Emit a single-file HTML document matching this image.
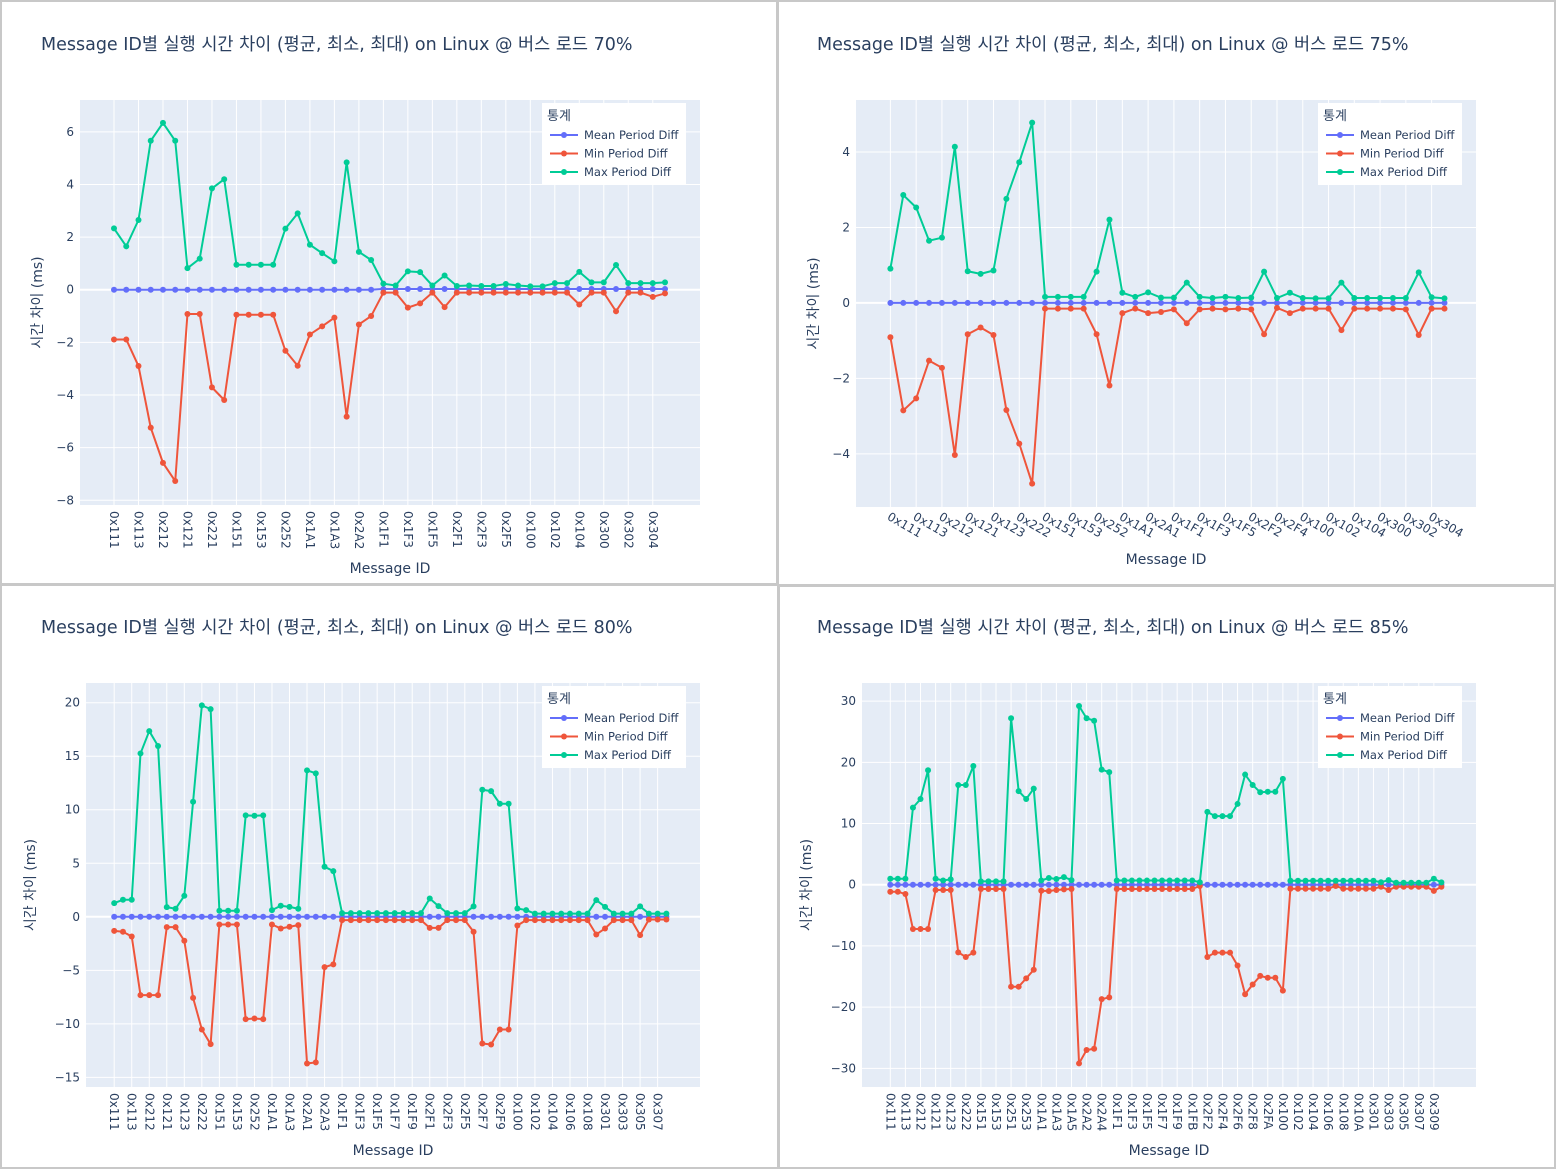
<!DOCTYPE html>
<html><head><meta charset="utf-8">
<style>
html,body{margin:0;padding:0;background:#fff;}
svg{display:block;font-family:"DejaVu Sans","Noto Sans CJK KR",sans-serif;}
</style></head>
<body>
<svg id="root" width="1556" height="1169" viewBox="0 0 1556 1169" xmlns="http://www.w3.org/2000/svg">
<rect x="0" y="0" width="1556" height="1169" fill="#fff"/>
<rect x="1" y="1" width="776" height="583" fill="none" stroke="#c8c8c8" stroke-width="2"/>
<rect x="778" y="1" width="777" height="584" fill="none" stroke="#c8c8c8" stroke-width="2"/>
<rect x="1" y="585" width="777" height="583" fill="none" stroke="#c8c8c8" stroke-width="2"/>
<rect x="779" y="586" width="776" height="582" fill="none" stroke="#c8c8c8" stroke-width="2"/>
</svg>
<script>
// ---------- Panel 1 (70%) ----------
const p1Cats = ["0x111","0x112","0x113","0x211","0x212","0x213","0x121","0x122","0x221","0x222","0x151","0x152","0x153","0x251","0x252","0x253","0x1A1","0x1A2","0x1A3","0x2A1","0x2A2","0x2A3","0x1F1","0x1F2","0x1F3","0x1F4","0x1F5","0x1F6","0x2F1","0x2F2","0x2F3","0x2F4","0x2F5","0x2F6","0x100","0x101","0x102","0x103","0x104","0x105","0x300","0x301","0x302","0x303","0x304","0x305"];
const p1Mean = [0,0,0,0,0,0,0,0,0,0,0,0,0,0,0,0,0,0,0,0,0,0,0.03,0.03,0.03,0.03,0.03,0.03,0.03,0.03,0.03,0.03,0.03,0.03,0.03,0.03,0.03,0.03,0.03,0.03,0.03,0.03,0.03,0.03,0.03,0.03];
const p1Min = [-1.89,-1.89,-2.9,-5.24,-6.58,-7.27,-0.92,-0.92,-3.71,-4.19,-0.95,-0.95,-0.95,-0.95,-2.32,-2.89,-1.7,-1.39,-1.06,-4.82,-1.32,-1.0,-0.11,-0.11,-0.68,-0.52,-0.11,-0.66,-0.11,-0.11,-0.11,-0.11,-0.11,-0.11,-0.11,-0.11,-0.11,-0.11,-0.56,-0.11,-0.11,-0.82,-0.11,-0.11,-0.27,-0.14];
const p1Max = [2.33,1.65,2.65,5.66,6.34,5.66,0.82,1.18,3.85,4.2,0.95,0.95,0.95,0.95,2.32,2.9,1.71,1.39,1.08,4.84,1.44,1.13,0.23,0.16,0.7,0.67,0.16,0.54,0.14,0.16,0.14,0.14,0.22,0.16,0.13,0.13,0.25,0.25,0.68,0.28,0.28,0.94,0.25,0.25,0.25,0.28];
const p1YTicks = [6,4,2,0,-2,-4,-6,-8];

// ---------- Panel 2 (75%) ----------
const p2Cats = ["0x111","0x112","0x113","0x211","0x212","0x213","0x121","0x122","0x123","0x221","0x222","0x223","0x151","0x152","0x153","0x251","0x252","0x253","0x1A1","0x1A2","0x2A1","0x2A2","0x1F1","0x1F2","0x1F3","0x1F4","0x1F5","0x1F6","0x2F2","0x2F3","0x2F4","0x2F5","0x100","0x101","0x102","0x103","0x104","0x105","0x300","0x301","0x302","0x303","0x304","0x305"];
const p2Mean = [0,0,0,0,0,0,0,0,0,0,0,0,0,0,0,0,0,0,0,0,0,0,0,0,0,0,0,0,0,0,0,0,0,0,0,0,0,0,0,0,0,0,0,0];
const p2Min = [-0.91,-2.85,-2.53,-1.53,-1.72,-4.03,-0.83,-0.65,-0.85,-2.84,-3.73,-4.79,-0.15,-0.15,-0.15,-0.15,-0.83,-2.19,-0.27,-0.15,-0.27,-0.24,-0.17,-0.54,-0.17,-0.15,-0.17,-0.15,-0.17,-0.83,-0.13,-0.27,-0.15,-0.15,-0.15,-0.72,-0.15,-0.15,-0.15,-0.15,-0.17,-0.85,-0.15,-0.15];
const p2Max = [0.91,2.86,2.53,1.65,1.73,4.14,0.84,0.77,0.86,2.76,3.73,4.78,0.16,0.16,0.16,0.16,0.83,2.21,0.27,0.16,0.28,0.14,0.14,0.54,0.16,0.13,0.16,0.13,0.14,0.83,0.13,0.27,0.13,0.12,0.12,0.54,0.13,0.13,0.13,0.13,0.13,0.81,0.15,0.12];
const p2YTicks = [4,2,0,-2,-4];

// ---------- Panel 3 (80%) ----------
const p3Cats = ["0x111","0x112","0x113","0x211","0x212","0x213","0x121","0x122","0x123","0x221","0x222","0x223","0x151","0x152","0x153","0x251","0x252","0x253","0x1A1","0x1A2","0x1A3","0x1A4","0x2A1","0x2A2","0x2A3","0x2A4","0x1F1","0x1F2","0x1F3","0x1F4","0x1F5","0x1F6","0x1F7","0x1F8","0x1F9","0x1FA","0x2F1","0x2F2","0x2F3","0x2F4","0x2F5","0x2F6","0x2F7","0x2F8","0x2F9","0x2FA","0x100","0x101","0x102","0x103","0x104","0x105","0x106","0x107","0x108","0x109","0x301","0x302","0x303","0x304","0x305","0x306","0x307","0x308"];
const p3Mean = [0,0,0,0,0,0,0,0,0,0,0,0,0,0,0,0,0,0,0,0,0,0,0,0,0,0,0,0,0,0,0,0,0,0,0,0,0,0,0,0,0,0,0,0,0,0,0,0,0,0,0,0,0,0,0,0,0,0,0,0,0,0,0,0];
const p3Min = [-1.31,-1.4,-1.84,-7.32,-7.32,-7.32,-0.97,-0.97,-2.24,-7.57,-10.53,-11.9,-0.72,-0.72,-0.72,-9.56,-9.5,-9.56,-0.72,-1.09,-0.93,-0.78,-13.7,-13.6,-4.7,-4.45,-0.31,-0.31,-0.31,-0.31,-0.31,-0.31,-0.31,-0.31,-0.31,-0.31,-1.03,-1.03,-0.31,-0.31,-0.31,-1.4,-11.84,-11.93,-10.53,-10.53,-0.81,-0.31,-0.31,-0.31,-0.31,-0.31,-0.31,-0.31,-0.31,-1.65,-1.09,-0.31,-0.31,-0.31,-1.71,-0.25,-0.25,-0.25];
const p3Max = [1.28,1.59,1.59,15.26,17.35,15.95,0.9,0.75,1.96,10.75,19.75,19.4,0.56,0.56,0.56,9.47,9.44,9.47,0.62,1.03,0.93,0.75,13.68,13.4,4.67,4.27,0.34,0.34,0.34,0.34,0.34,0.34,0.34,0.34,0.34,0.34,1.71,1.0,0.34,0.34,0.34,0.97,11.87,11.74,10.56,10.56,0.78,0.62,0.3,0.3,0.3,0.3,0.3,0.3,0.3,1.56,0.93,0.3,0.3,0.3,0.97,0.3,0.3,0.3];
const p3YTicks = [20,15,10,5,0,-5,-10,-15];

// ---------- Panel 4 (85%) ----------
const p4Cats = ["0x111","0x112","0x113","0x211","0x212","0x213","0x121","0x122","0x123","0x221","0x222","0x223","0x151","0x152","0x153","0x154","0x251","0x252","0x253","0x254","0x1A1","0x1A2","0x1A3","0x1A4","0x1A5","0x2A1","0x2A2","0x2A3","0x2A4","0x2A5","0x1F1","0x1F2","0x1F3","0x1F4","0x1F5","0x1F6","0x1F7","0x1F8","0x1F9","0x1FA","0x1FB","0x1FC","0x2F2","0x2F3","0x2F4","0x2F5","0x2F6","0x2F7","0x2F8","0x2F9","0x2FA","0x2FB","0x100","0x101","0x102","0x103","0x104","0x105","0x106","0x107","0x108","0x109","0x10A","0x10B","0x301","0x302","0x303","0x304","0x305","0x306","0x307","0x308","0x309","0x30A"];
const p4Mean = [0,0,0,0,0,0,0,0,0,0,0,0,0,0,0,0,0,0,0,0,0,0,0,0,0,0,0,0,0,0,0,0,0,0,0,0,0,0,0,0,0,0,0,0,0,0,0,0,0,0,0,0,0,0,0,0,0,0,0,0,0,0,0,0,0,0,0,0,0,0,0,0,0,0];
const p4Min = [-1.14,-1.14,-1.52,-7.24,-7.24,-7.24,-0.87,-0.87,-0.87,-11.05,-11.8,-11.1,-0.7,-0.7,-0.7,-0.7,-16.66,-16.66,-15.3,-13.9,-0.98,-1.03,-0.87,-0.76,-0.7,-29.2,-27.0,-26.8,-18.7,-18.4,-0.7,-0.7,-0.7,-0.7,-0.7,-0.7,-0.7,-0.7,-0.7,-0.7,-0.7,-0.2,-11.8,-11.1,-11.1,-11.1,-13.2,-17.9,-16.3,-14.9,-15.2,-15.2,-17.3,-0.65,-0.65,-0.65,-0.65,-0.65,-0.65,-0.2,-0.65,-0.65,-0.65,-0.65,-0.65,-0.33,-0.87,-0.33,-0.33,-0.33,-0.33,-0.33,-1.0,-0.33];
const p4Max = [0.98,0.98,0.98,12.6,14.0,18.7,0.98,0.7,0.87,16.3,16.3,19.4,0.54,0.54,0.54,0.54,27.2,15.3,14.0,15.7,0.7,1.1,0.93,1.25,0.76,29.2,27.2,26.8,18.8,18.4,0.7,0.7,0.7,0.7,0.7,0.7,0.7,0.7,0.7,0.7,0.7,0.4,11.9,11.2,11.2,11.2,13.2,18.0,16.3,15.1,15.2,15.2,17.3,0.65,0.65,0.65,0.65,0.65,0.65,0.65,0.65,0.65,0.65,0.65,0.65,0.4,0.76,0.33,0.33,0.33,0.33,0.33,0.98,0.38];
const p4YTicks = [30,20,10,0,-10,-20,-30];

const COLORS = {mean:"#636efa", min:"#ef553b", max:"#00cc96"};
const NS = "http://www.w3.org/2000/svg";
const root = document.getElementById('root');

function mk(tag, attrs, parent){
  const e = document.createElementNS(NS, tag);
  for (const k in attrs) e.setAttribute(k, attrs[k]);
  parent.appendChild(e);
  return e;
}
function fmt(v){ return v < 0 ? "\u2212" + Math.abs(v) : String(v); }

function drawChart(cfg){
  const g = mk('g', {}, root);
  
  
  const P = cfg.plot;
  const n = cfg.cats.length;
  const step = (cfg.xLast - cfg.xFirst) / (n - 1);
  const xS = i => cfg.xFirst + i * step;
  const yS = v => P.t + (cfg.yMax - v) / (cfg.yMax - cfg.yMin) * (P.b - P.t);

  const title = mk('text', {x: cfg.titleX, y: cfg.titleY, 'font-size': 17.5, fill: '#2a3f5f'}, g);
  title.textContent = cfg.title;
  
  

  const bg = mk('rect', {x: P.l, y: P.t, width: P.r - P.l, height: P.b - P.t, fill: '#e5ecf6'}, g);
  
  

  for (let i = 0; i < n; i += 2) {
    const x = xS(i);
    const gl = mk('line', {x1: x, x2: x, y1: P.t, y2: P.b, stroke: '#fff', 'stroke-width': 1}, g);
    
    
    let t;
    if (cfg.rot === 90) {
      t = mk('text', {x: 0, y: 0, 'font-size': 12, fill: '#2a3f5f', 'text-anchor': 'start', 'dominant-baseline': 'central', transform: `translate(${x},${P.b + 6}) rotate(90)`}, g);
    } else {
      t = mk('text', {x: 0, y: 0, 'font-size': 12, fill: '#2a3f5f', 'text-anchor': 'start', transform: `translate(${x - 4},${P.b + 12}) rotate(30)`}, g);
    }
    t.textContent = cfg.cats[i];
    
    
  }
  cfg.yTicks.forEach(v => {
    const y = yS(v);
    const hl = mk('line', {x1: P.l, x2: P.r, y1: y, y2: y, stroke: '#fff', 'stroke-width': v === 0 ? 2 : 1}, g);
    
    
    const t = mk('text', {x: P.l - 6, y: y + 4, 'font-size': 12, fill: '#2a3f5f', 'text-anchor': 'end'}, g);
    t.textContent = fmt(v);
    
    
  });

  const xt = mk('text', {x: (P.l + P.r) / 2, y: cfg.xTitleY, 'font-size': 14, fill: '#2a3f5f', 'text-anchor': 'middle'}, g);
  xt.textContent = 'Message ID';
  
  
  const ym = (P.t + P.b) / 2;
  const yt = mk('text', {x: 0, y: 0, 'font-size': 14, fill: '#2a3f5f', 'text-anchor': 'middle', transform: `translate(${cfg.yTitleX},${ym}) rotate(-90)`}, g);
  yt.textContent = '시간 차이 (ms)';
  
  

  const series = [
    {key: 'mean', vals: cfg.mean, name: 'Mean Period Diff'},
    {key: 'min', vals: cfg.min, name: 'Min Period Diff'},
    {key: 'max', vals: cfg.max, name: 'Max Period Diff'}
  ];
  series.forEach(s => {
    const sg = mk('g', {}, g);
    
    
    const pts = s.vals.map((v, i) => xS(i).toFixed(2) + ',' + yS(v).toFixed(2)).join(' ');
    const pl = mk('polyline', {points: pts, fill: 'none', stroke: COLORS[s.key], 'stroke-width': 2, 'stroke-linejoin': 'round'}, sg);
    
    
    s.vals.forEach((v, i) => {
      const c = mk('circle', {cx: xS(i), cy: yS(v), r: 3, fill: COLORS[s.key]}, sg);
      
      
    });
  });

  const L = cfg.legend;
  const lg = mk('g', {}, g);
  
  
  mk('rect', {x: L.x, y: L.y, width: 144, height: 82, fill: '#fff'}, lg);
  const lt = mk('text', {x: L.x + 5, y: L.y + 17, 'font-size': 13, fill: '#2a3f5f'}, lg);
  lt.textContent = '통계';
  
  
  series.forEach((s, k) => {
    const yy = L.y + 32 + k * 18.5;
    const eg = mk('g', {}, lg);
    
    
    mk('line', {x1: L.x + 8, x2: L.x + 36, y1: yy, y2: yy, stroke: COLORS[s.key], 'stroke-width': 2}, eg);
    mk('circle', {cx: L.x + 22, cy: yy, r: 3, fill: COLORS[s.key]}, eg);
    const et = mk('text', {x: L.x + 42, y: yy + 4, 'font-size': 11.5, fill: '#2a3f5f'}, eg);
    et.textContent = s.name;
  });
}

drawChart({id: 'chart-load-70', title: 'Message ID별 실행 시간 차이 (평균, 최소, 최대) on Linux @ 버스 로드 70%',
  titleX: 41, titleY: 50, cats: p1Cats, mean: p1Mean, min: p1Min, max: p1Max, yTicks: p1YTicks,
  plot: {l: 80, r: 700, t: 100, b: 505}, xFirst: 114, xLast: 665, yMin: -8.18, yMax: 7.21,
  rot: 90, xTitleY: 573, yTitleX: 42, legend: {x: 542, y: 103}});

drawChart({id: 'chart-load-75', title: 'Message ID별 실행 시간 차이 (평균, 최소, 최대) on Linux @ 버스 로드 75%',
  titleX: 817, titleY: 50, cats: p2Cats, mean: p2Mean, min: p2Min, max: p2Max, yTicks: p2YTicks,
  plot: {l: 856, r: 1476, t: 100, b: 507}, xFirst: 890.4, xLast: 1444.5, yMin: -5.41, yMax: 5.38,
  rot: 30, xTitleY: 564, yTitleX: 818, legend: {x: 1318, y: 103}});

drawChart({id: 'chart-load-80', title: 'Message ID별 실행 시간 차이 (평균, 최소, 최대) on Linux @ 버스 로드 80%',
  titleX: 41, titleY: 633, cats: p3Cats, mean: p3Mean, min: p3Min, max: p3Max, yTicks: p3YTicks,
  plot: {l: 86, r: 700, t: 683, b: 1087}, xFirst: 114.2, xLast: 666.4, yMin: -15.9, yMax: 21.84,
  rot: 90, xTitleY: 1155, yTitleX: 35, legend: {x: 542, y: 686}});

drawChart({id: 'chart-load-85', title: 'Message ID별 실행 시간 차이 (평균, 최소, 최대) on Linux @ 버스 로드 85%',
  titleX: 817, titleY: 633, cats: p4Cats, mean: p4Mean, min: p4Min, max: p4Max, yTicks: p4YTicks,
  plot: {l: 862, r: 1476, t: 683, b: 1087}, xFirst: 890.3, xLast: 1441.4, yMin: -33.05, yMax: 32.96,
  rot: 90, xTitleY: 1155, yTitleX: 811, legend: {x: 1318, y: 686}});
</script>
</body></html>
